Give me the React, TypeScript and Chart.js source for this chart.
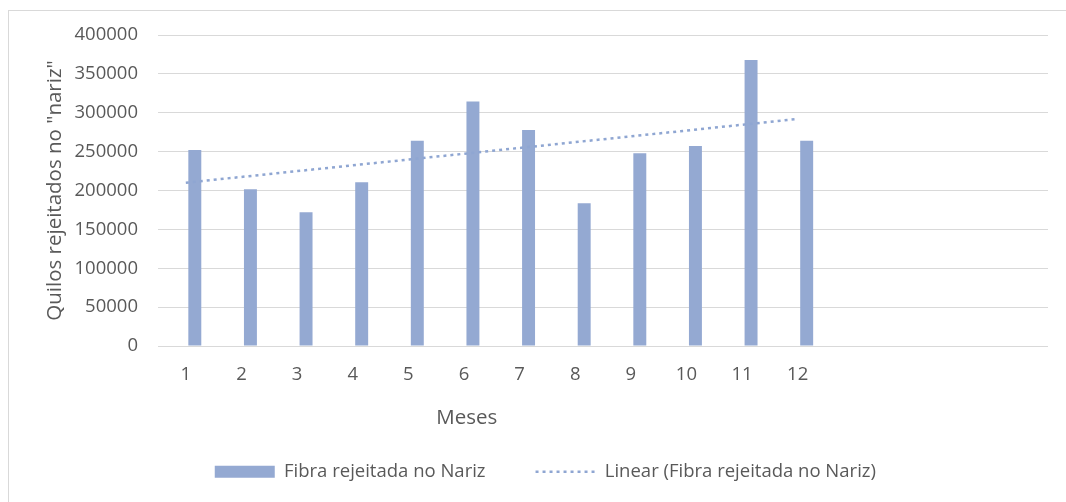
import React, { useEffect, useRef } from "react";
import { Chart, registerables } from "chart.js";

Chart.register(...registerables);

// Month numbers on the x axis; the trailing empty slots keep the axis running past month 12.
const monthLabels = ["1", "2", "3", "4", "5", "6", "7", "8", "9", "10", "11", "12", "", "", "", ""];

// Kilos of fibre rejected at the "nose", per month.
const rejectedKilos = [252000, 201500, 171900, 210500, 264000, 314600, 277800, 183500, 247800, 257200, 367800, 264000];

// Linear trend line of the series: value at month 1 and at month 12.
const trendEnds = [210000, 292000];

const yTicks = [0, 50000, 100000, 150000, 200000, 250000, 300000, 350000, 400000];

const SERIES_NAME = "Fibra rejeitada no Nariz";
const TREND_NAME = "Linear (Fibra rejeitada no Nariz)";
const Y_TITLE = 'Quilos rejeitados no "nariz"';
const X_TITLE = "Meses";

const BAR_COLOR = "#94a9d2";
const TREND_COLOR = "#8fa6d2";
const TEXT_COLOR = "#595959";
const GRID_COLOR = "#d9d9d9";
const FONT = "'Open Sans', 'Liberation Sans', sans-serif";

// The month axis title sits left of the plot's centre, so it is drawn here
// relative to the chart area instead of by the scale itself.
const monthTitlePlugin = {
  id: "monthTitle",
  afterDraw(chart: any) {
    const { ctx, chartArea } = chart;
    ctx.save();
    ctx.font = `20.5px ${FONT}`;
    ctx.fillStyle = TEXT_COLOR;
    ctx.textAlign = "center";
    ctx.textBaseline = "middle";
    const x = chartArea.left + 0.347 * (chartArea.right - chartArea.left);
    ctx.fillText(X_TITLE, x, chartArea.bottom + 71.8);
    ctx.restore();
  },
};

export default function App() {
  const canvasRef = useRef<HTMLCanvasElement | null>(null);

  useEffect(() => {
    const canvas = canvasRef.current;
    if (!canvas) return;

    const barData: (number | null)[] = monthLabels.map((_, i) => (i < rejectedKilos.length ? rejectedKilos[i] : null));
    // An empty bar series holds the left slot of each month, so the real bars sit just right of the tick.
    const spacerData: (number | null)[] = monthLabels.map(() => null);
    const trendData: (number | null)[] = monthLabels.map(() => null);
    trendData[0] = trendEnds[0];
    trendData[rejectedKilos.length - 1] = trendEnds[1];

    const chart = new Chart(canvas, {
      type: "bar",
      data: {
        labels: monthLabels,
        datasets: [
          {
            type: "line",
            label: TREND_NAME,
            data: trendData,
            borderColor: TREND_COLOR,
            backgroundColor: TREND_COLOR,
            borderWidth: 2.5,
            borderDash: [3, 4],
            pointRadius: 0,
            pointHoverRadius: 0,
            spanGaps: true,
            fill: false,
            order: 0,
          } as any,
          {
            label: "",
            data: spacerData,
            backgroundColor: "rgba(0,0,0,0)",
            order: 1,
          },
          {
            label: SERIES_NAME,
            data: barData,
            backgroundColor: BAR_COLOR,
            borderWidth: 0,
            order: 2,
          },
        ],
      },
      options: {
        responsive: false,
        animation: false,
        devicePixelRatio: 1,
        layout: { padding: { left: 42.7, right: 18, top: 35, bottom: 11.1 } },
        datasets: {
          bar: { categoryPercentage: 0.647, barPercentage: 0.72 },
        },
        scales: {
          x: {
            afterFit: (scale: any) => {
              scale.height = 66.4;
            },
            grid: { display: false, drawTicks: false },
            border: { display: false },
            ticks: {
              color: TEXT_COLOR,
              font: { family: FONT, size: 18.5 },
              padding: 18,
              autoSkip: false,
              maxRotation: 0,
              minRotation: 0,
            },
          },
          y: {
            min: yTicks[0],
            max: yTicks[yTicks.length - 1],
            afterBuildTicks: (scale: any) => {
              scale.ticks = yTicks.map((v) => ({ value: v }));
            },
            afterFit: (scale: any) => {
              scale.width = 115.3;
            },
            grid: { color: GRID_COLOR, lineWidth: 1, drawTicks: false },
            border: { display: false },
            ticks: {
              color: TEXT_COLOR,
              font: { family: FONT, size: 18.5 },
              padding: 20,
              callback: (v: any) => String(v),
            },
            title: {
              display: true,
              text: Y_TITLE,
              color: TEXT_COLOR,
              font: { family: FONT, size: 20.5 },
              padding: { top: 0, bottom: 0 },
            },
          },
        },
        plugins: {
          tooltip: { enabled: false },
          legend: {
            position: "bottom",
            labels: {
              usePointStyle: true,
              pointStyleWidth: 60,
              boxHeight: 12,
              padding: 50,
              color: TEXT_COLOR,
              font: { family: FONT, size: 18.5 },
              generateLabels: (c: any) => {
                const items = c.data.datasets
                  .map((ds: any, i: number) => ({ ds, i }))
                  .filter(({ ds }: any) => ds.label !== "");
                const ordered = [
                  items.find(({ ds }: any) => ds.label === SERIES_NAME),
                  items.find(({ ds }: any) => ds.label === TREND_NAME),
                ];
                return ordered.map(({ ds, i }: any) => {
                  const isTrend = ds.label === TREND_NAME;
                  return {
                    text: ds.label,
                    datasetIndex: i,
                    fontColor: TEXT_COLOR,
                    hidden: false,
                    pointStyle: isTrend ? "line" : "rect",
                    fillStyle: isTrend ? "rgba(0,0,0,0)" : BAR_COLOR,
                    strokeStyle: isTrend ? TREND_COLOR : BAR_COLOR,
                    lineWidth: isTrend ? 2.5 : 0,
                    lineDash: isTrend ? [3, 4] : [],
                    lineCap: "butt",
                  };
                });
              },
            },
          },
        },
      } as any,
      plugins: [monthTitlePlugin],
    });

    return () => chart.destroy();
  }, []);

  return (
    <div style={{ position: "fixed", left: 0, top: 0, width: 1066, height: 502, background: "#ffffff" }}>
      <div
        style={{
          position: "absolute",
          left: 8,
          top: 10,
          width: 1058,
          height: 492,
          borderLeft: `1px solid ${GRID_COLOR}`,
          borderTop: `1px solid ${GRID_COLOR}`,
          boxSizing: "border-box",
        }}
      />
      <canvas
        ref={canvasRef}
        width={1066}
        height={502}
        style={{ position: "absolute", left: 0, top: 0, width: 1066, height: 502 }}
      />
    </div>
  );
}
